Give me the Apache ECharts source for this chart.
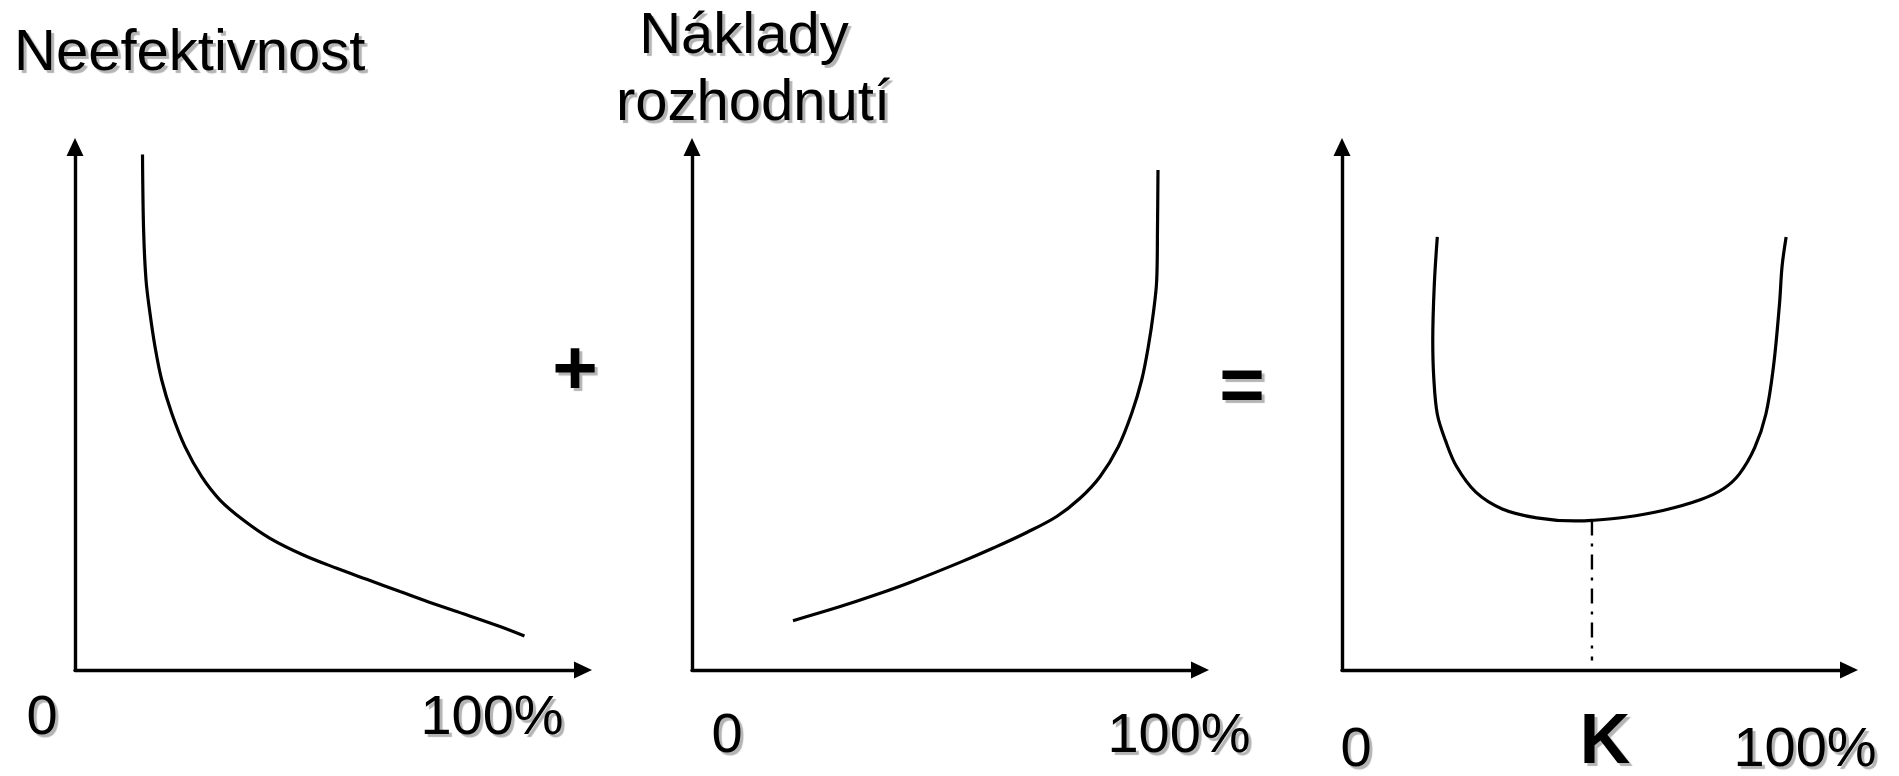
<!DOCTYPE html>
<html>
<head>
<meta charset="utf-8">
<title>Neefektivnost + Náklady rozhodnutí</title>
<script src="https://cdn.jsdelivr.net/npm/echarts@6/dist/echarts.min.js"></script>
<style>
  html, body { margin: 0; padding: 0; background: #fff; }
  #chart { width: 1899px; height: 776px; }
</style>
</head>
<body>
<div id="chart"></div>
<script>
// krivky (x = podil v %, y = relativni hodnota)
const neefektivnost = [
  [13.29, 98.57], [13.50, 84.30], [13.98, 74.57], [14.76, 68.20], [15.75, 61.82],
  [17.07, 55.45], [19.04, 49.08], [21.65, 42.70], [24.94, 36.96], [28.54, 32.50],
  [33.13, 28.68], [38.39, 25.18], [44.94, 21.99], [51.52, 19.45], [57.42, 17.34],
  [63.98, 15.01], [70.47, 12.72], [77.17, 10.52], [83.66, 8.32], [88.48, 6.50]
];
const nakladyRozhodnuti = [
  [19.88, 9.43], [28.86, 12.03], [35.89, 14.28], [42.91, 16.74], [52.76, 20.58],
  [59.31, 23.33], [65.89, 26.30], [71.79, 29.35], [76.38, 32.83], [80.31, 36.96],
  [83.92, 42.70], [86.56, 49.08], [88.52, 55.45], [89.82, 61.82], [90.81, 68.20],
  [91.48, 74.57], [91.63, 84.13], [91.73, 95.60]
];
const soucet = [
  [18.8, 82.8], [18.2, 73.6], [17.9, 63.0], [18.1, 55.9], [18.8, 48.9],
  [20.4, 43.9], [22.6, 38.9], [26.4, 34.0], [31.6, 30.8], [38.4, 29.1],
  [46.0, 28.5], [49.3, 28.6], [55.8, 29.2], [63.3, 30.5], [70.8, 32.6],
  [75.3, 34.7], [78.4, 37.5], [81.4, 42.5], [83.6, 48.9], [85.1, 58.0],
  [86.3, 70.1], [86.8, 77.2], [87.6, 82.8]
];
const optimum = [[49.3, 28.6], [49.3, 1.8]];

const tickLabels = ['0', '100%'];
const optimumLabel = 'K';
const titles = ['Neefektivnost', 'Náklady', 'rozhodnutí'];
const operators = ['+', '='];

const FONT = '"Liberation Sans", Arial, sans-serif';
const shadow = { textShadowColor: '#b4b4b4', textShadowOffsetX: 3, textShadowOffsetY: 3, textShadowBlur: 1 };

function txt(text, x, y, size, align, bold) {
  return {
    type: 'text', x: x, y: y, silent: true,
    style: Object.assign({
      text: text, fill: '#000', fontSize: size, fontFamily: FONT,
      fontWeight: bold ? 'bold' : 'normal',
      align: align || 'center', verticalAlign: 'middle'
    }, shadow)
  };
}

const myChart = echarts.init(document.getElementById('chart'));

const grids = [
  { left: 75, top: 147, width: 508, height: 523 },
  { left: 692, top: 147, width: 508, height: 523 },
  { left: 1342, top: 147, width: 507, height: 523 }
];

const axisLine = {
  show: true,
  symbol: ['none', 'triangle'],
  symbolSize: [17, 18],
  lineStyle: { color: '#000', width: 3.4 }
};

function axes() {
  return grids.map((g, i) => ({
    type: 'value', gridIndex: i, min: 0, max: 100,
    axisLine: axisLine,
    axisTick: { show: false },
    axisLabel: { show: false },
    splitLine: { show: false }
  }));
}

const curve = { color: '#000', width: 3.2 };

const option = {
  animation: false,
  backgroundColor: '#fff',
  grid: grids,
  xAxis: axes(),
  yAxis: axes(),
  series: [
    {
      name: titles[0], type: 'line', xAxisIndex: 0, yAxisIndex: 0,
      data: neefektivnost, smooth: 0.35, showSymbol: false, lineStyle: curve
    },
    {
      name: titles[1] + ' ' + titles[2], type: 'line', xAxisIndex: 1, yAxisIndex: 1,
      data: nakladyRozhodnuti, smooth: 0.35, showSymbol: false, lineStyle: curve
    },
    {
      name: 'součet', type: 'line', xAxisIndex: 2, yAxisIndex: 2,
      data: soucet, smooth: 0.35, showSymbol: false, lineStyle: curve
    },
    {
      name: optimumLabel, type: 'line', xAxisIndex: 2, yAxisIndex: 2,
      data: optimum, showSymbol: false,
      lineStyle: { color: '#000', width: 2.4, type: [15, 8, 3, 8] }
    }
  ],
  graphic: [
    txt(titles[0], 14, 54, 58, 'left'),
    txt(titles[1], 744, 37, 58),
    txt(titles[2], 753, 104, 58),
    txt(operators[0], 575, 372, 78, 'center', true),
    txt(operators[1], 1242, 389, 78, 'center', true),
    // popisky os
    txt(tickLabels[0], 42, 719, 56),
    txt(tickLabels[1], 492, 719, 56),
    txt(tickLabels[0], 727, 737, 56),
    txt(tickLabels[1], 1179, 737, 56),
    txt(tickLabels[0], 1356, 751, 56),
    txt(optimumLabel, 1605, 744, 70, 'center', true),
    txt(tickLabels[1], 1805, 751, 56)
  ]
};

myChart.setOption(option);
window.addEventListener('resize', () => {
  myChart.resize();
});
</script>
</body>
</html>
